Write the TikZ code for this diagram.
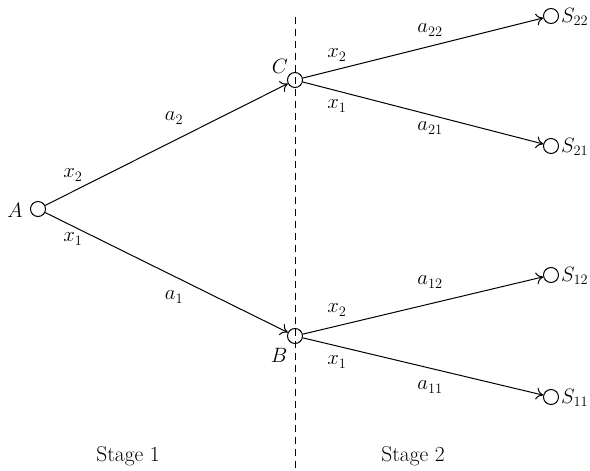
\documentclass[tikz,border=0pt]{standalone}
\usetikzlibrary{arrows.meta}
\begin{document}
\begin{tikzpicture}[x=1pt,y=-1pt,
  every node/.style={font=\fontsize{21.5}{25}\selectfont, inner sep=0pt},
  state/.style={circle, draw, line width=1pt, minimum size=15pt, inner sep=0pt},
  edge/.style={line width=1pt},
  arr/.style={edge, -{To[length=7pt,width=12pt]}}]
\useasboundingbox (0,0) rectangle (590,471);
% dashed divider
\coordinate (top) at (295,17);
\coordinate (bot) at (295,470);
\draw[line width=1pt, dash pattern=on 7pt off 5pt] (top) -- (bot);
% nodes
\node[state] (A) at (38,209) {};
\node[state] (C) at (295,80) {};
\node[state] (B) at (295,336) {};
\node[state] (S22) at (551,16) {};
\node[state] (S21) at (551,146) {};
\node[state] (S12) at (551,275) {};
\node[state] (S11) at (551,397) {};
% node labels
\node (lA) at (15,210) {$A$};
\node (lC) at (280,66) {$C$};
\node (lB) at (279,355) {$B$};
\node[anchor=west] (lS22) at (561,17) {$S_{22}$};
\node[anchor=west] (lS21) at (561,147) {$S_{21}$};
\node[anchor=west] (lS12) at (561,276) {$S_{12}$};
\node[anchor=west] (lS11) at (561,398) {$S_{11}$};
% connectors
\draw[arr] (A) -- (C);
\draw[arr] (A) -- (B);
\draw[arr] (C) -- (S22);
\draw[arr] (C) -- (S21);
\draw[arr] (B) -- (S12);
\draw[arr] (B) -- (S11);
% edge labels
\node (x2A) at (73,175) {$x_2$};
\node (x1A) at (73,239) {$x_1$};
\node (a2) at (174,118) {$a_2$};
\node (a1) at (174,297) {$a_1$};
\node (x2C) at (337,55) {$x_2$};
\node (x1C) at (337,106) {$x_1$};
\node (a22) at (430,30) {$a_{22}$};
\node (a21) at (430,128) {$a_{21}$};
\node (x2B) at (337,310) {$x_2$};
\node (x1B) at (337,362) {$x_1$};
\node (a12) at (430,282) {$a_{12}$};
\node (a11) at (430,387) {$a_{11}$};
% stage labels
\node (st1) at (128,456) {Stage 1};
\node (st2) at (413,456) {Stage 2};
\end{tikzpicture}
\end{document}
